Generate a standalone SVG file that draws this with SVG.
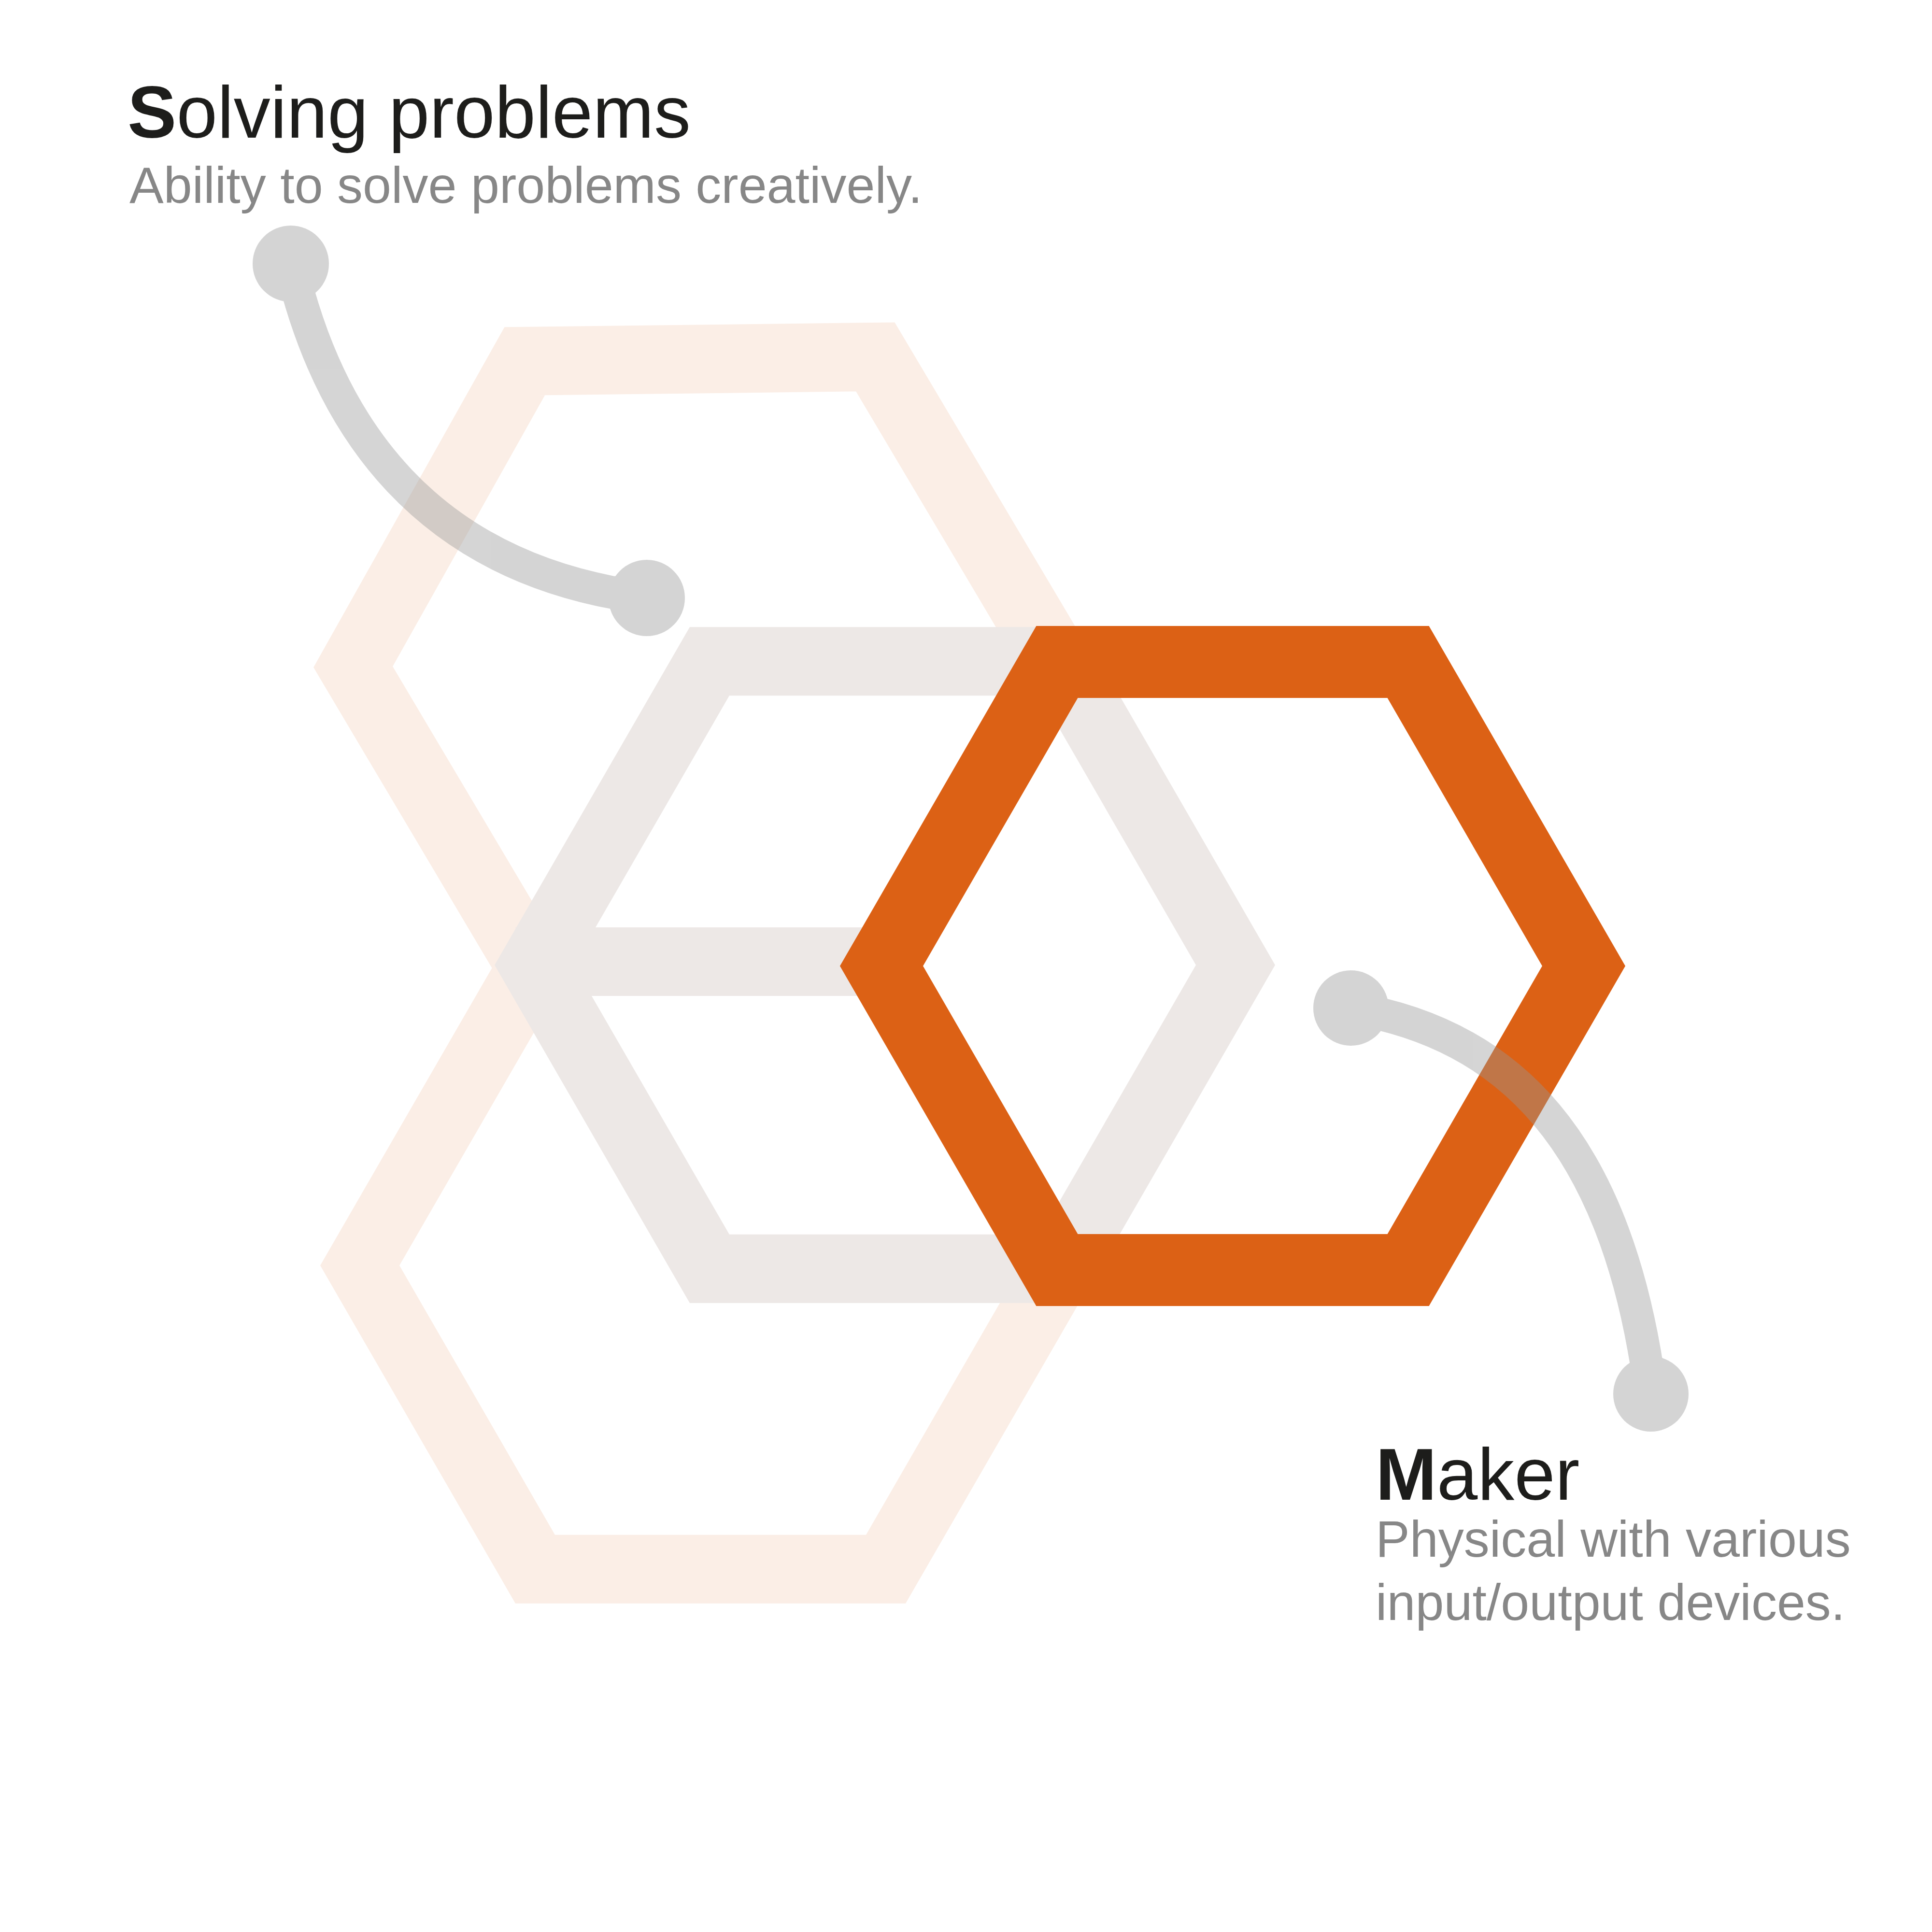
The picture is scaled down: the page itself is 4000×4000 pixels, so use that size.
<svg xmlns="http://www.w3.org/2000/svg" width="4000" height="4000" viewBox="0 0 4000 4000">
<style>
.peach{fill:none;stroke:#fbeee6;stroke-width:142;stroke-linejoin:miter}
.gray{fill:#ffffff;stroke:#ede8e6;stroke-width:142;stroke-linejoin:miter}
.orange{fill:none;stroke:#dc6115;stroke-width:149;stroke-linejoin:miter}
.conn{fill:none;stroke:#969696;stroke-width:68}
.dot{fill:#969696}
.title{font-family:"Liberation Sans","Noto Sans",Arial,sans-serif;font-size:152px;fill:#1d1d1b}
.sub{font-family:"Liberation Sans","Noto Sans",Arial,sans-serif;font-size:106px;fill:#878787}
</style>
<rect width="4000" height="4000" fill="#ffffff"/>
<g id="hex-peach-upper">
<polygon class="peach" transform="rotate(-0.7 1457 1372)" points="731,1372 1094,743.3 1820,743.3 2183,1372 1820,2000.7 1094,2000.7"/>
</g>
<g id="hex-peach-lower">
<polygon class="peach" points="745,2620 1108,1991.3 1834,1991.3 2197,2620 1834,3248.7 1108,3248.7"/>
</g>
<g id="hex-gray">
<polygon class="gray" points="1106,1998 1469,1369.3 2195,1369.3 2558,1998 2195,2626.7 1469,2626.7"/>
<polygon fill="#ede8e6" points="1067,1920 1875,1920 1793,2062 1149,2062"/>
</g>
<g id="hex-orange">
<polygon class="orange" points="1825,2000 2188.5,1370.4 2915.5,1370.4 3279,2000 2915.5,2629.6 2188.5,2629.6"/>
</g>
<g id="connectors" opacity="0.4">
<g>
<path class="conn" d="M602,546 C680,880 880,1180 1339,1238"/>
<circle class="dot" cx="602" cy="546" r="79"/>
<circle class="dot" cx="1339" cy="1238" r="79"/>
</g>
<g>
<path class="conn" d="M2797,2087 C3120,2140 3350,2360 3418,2886"/>
<circle class="dot" cx="2797" cy="2087" r="78"/>
<circle class="dot" cx="3418" cy="2886" r="78"/>
</g>
</g>
<g id="label-solving">
<text class="title" x="264" y="285"><tspan font-weight="bold">S</tspan>olving problems</text>
<text class="sub" x="268" y="420">Ability to solve problems creatively.</text>
</g>
<g id="label-maker">
<text class="title" x="2848" y="3105"><tspan font-weight="bold">M</tspan>aker</text>
<text class="sub" x="2848" y="3223">Physical with various</text>
<text class="sub" x="2848" y="3354">input/output devices.</text>
</g>
</svg>
